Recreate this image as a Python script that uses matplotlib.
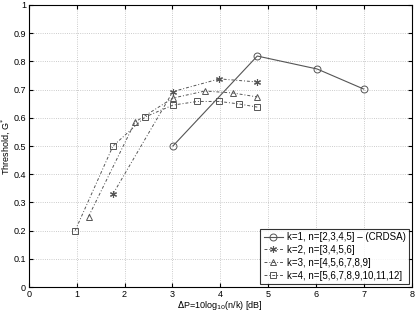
import matplotlib
matplotlib.use("Agg")
import matplotlib.pyplot as plt

x1 = [3.01, 4.77, 6.02, 6.99]
y1 = [0.50, 0.819, 0.773, 0.702]
x2 = [1.76, 3.01, 3.98, 4.77]
y2 = [0.33, 0.693, 0.738, 0.727]
x3 = [1.25, 2.22, 3.01, 3.68, 4.26, 4.77]
y3 = [0.25, 0.585, 0.67, 0.695, 0.688, 0.674]
x4 = [0.97, 1.76, 2.43, 3.01, 3.52, 3.98, 4.39, 4.77]
y4 = [0.20, 0.50, 0.603, 0.645, 0.658, 0.658, 0.649, 0.638]
labels = ["k=1, n=[2,3,4,5] \u2013 (CRDSA)", "k=2, n=[3,4,5,6]",
          "k=3, n=[4,5,6,7,8,9]", "k=4, n=[5,6,7,8,9,10,11,12]"]

plt.rcParams['font.family'] = ['Liberation Sans', 'DejaVu Sans']
fig = plt.figure(figsize=(4.15, 3.11), dpi=100)
ax = fig.add_axes([0.069, 0.077, 0.924, 0.907])
c = '#555555'
d = (3, 2, 1, 2)
ax.plot(x1, y1, '-', color=c, lw=0.8, marker='o', mfc='none', ms=5, mew=0.7, label=labels[0])
ax.plot(x2, y2, '-.', color=c, lw=0.7, marker=(6, 2, 0), mfc='none', ms=5, mew=0.8, label=labels[1], dashes=d)
ax.plot(x3, y3, '-.', color=c, lw=0.7, marker='^', mfc='none', ms=5, mew=0.7, label=labels[2], dashes=d)
ax.plot(x4, y4, '-.', color=c, lw=0.7, marker='s', mfc='none', ms=4.5, mew=0.7, label=labels[3], dashes=d)
ax.set_xlim(0, 8)
ax.set_ylim(0, 1)
ax.set_xticks(range(0, 9))
ax.set_yticks([i / 10 for i in range(11)])
ax.set_yticklabels(['0'] + ['%.1f' % (i / 10) for i in range(1, 10)] + ['1'])
ax.grid(True, linestyle=':', color='#bbbbbb', lw=0.6)
ax.tick_params(direction='in', labelsize=6.5, length=3, top=True, right=True, pad=2)
ax.set_xlabel(r'$\Delta$P=10log$_{10}$(n/k) [dB]', fontsize=6.5, labelpad=0)
ax.set_ylabel('Threshold, G$^{*}$', fontsize=6.5, labelpad=1)
for s in ax.spines.values():
    s.set_linewidth(0.8)
leg = ax.legend(loc='lower right', fontsize=7, frameon=True, fancybox=False,
                edgecolor='black', handlelength=2.0, borderpad=0.35, labelspacing=0.3,
                handletextpad=0.4, borderaxespad=0.3)
leg.get_frame().set_linewidth(0.8)
fig.savefig('out.png', dpi=100)
